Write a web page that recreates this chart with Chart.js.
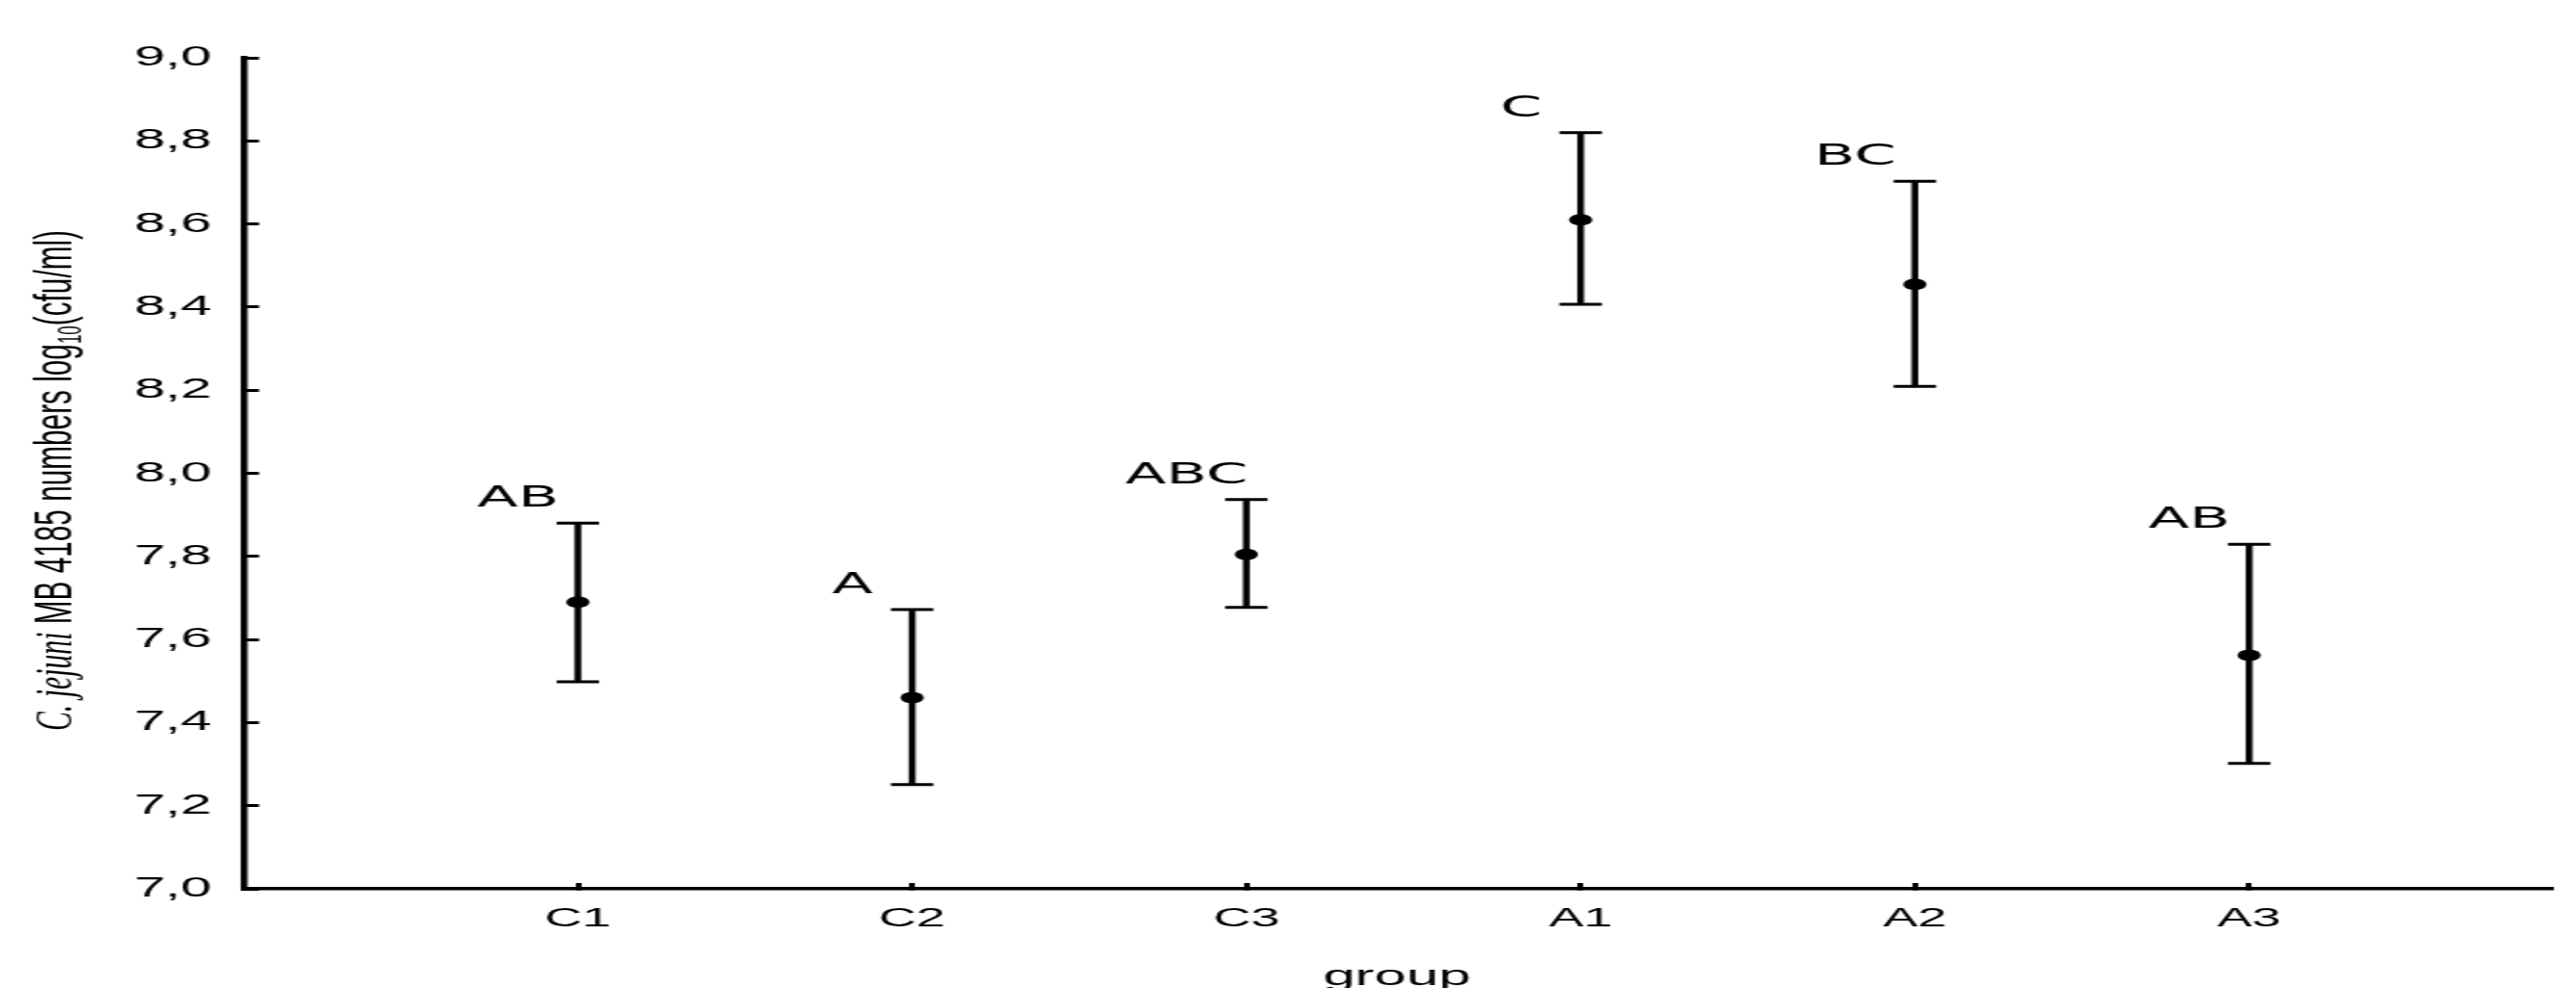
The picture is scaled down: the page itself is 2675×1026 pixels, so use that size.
<!DOCTYPE html>
<html>
<head>
<meta charset="utf-8">
<script src="https://cdn.jsdelivr.net/npm/chart.js@4.4.1/dist/chart.umd.min.js"></script>
<style>
html, body { margin: 0; padding: 0; background: #fff; overflow: hidden; }
#wrap { width: 2675px; height: 1026px; overflow: hidden; }
/* the original figure is stretched 2x horizontally, so draw at half width and stretch */
#chart { display: block; transform: scaleX(2); transform-origin: 0 0; }
</style>
</head>
<body>
<div id="wrap"><canvas id="chart" width="1338" height="1026"></canvas></div>
<script>
// data
const groups = ['C1', 'C2', 'C3', 'A1', 'A2', 'A3'];
const means = [7.69, 7.46, 7.805, 8.61, 8.455, 7.562];
const upperCI = [7.88, 7.672, 7.937, 8.82, 8.703, 7.829];
const lowerCI = [7.498, 7.251, 7.677, 8.407, 8.209, 7.302];
const letters = ['AB', 'A', 'ABC', 'C', 'BC', 'AB'];
const yTicks = [7.0, 7.2, 7.4, 7.6, 7.8, 8.0, 8.2, 8.4, 8.6, 8.8, 9.0];

const sans = "'Liberation Sans', Arial, sans-serif";

var meanPts = [], capPts = [], barPts = [];
for (let i = 0; i < groups.length; i++) {
	meanPts.push({x: i + 1, y: means[i]});
	capPts.push({x: i + 1, y: upperCI[i]}, {x: i + 1, y: lowerCI[i]});
	barPts.push({x: i + 1, y: lowerCI[i]}, {x: i + 1, y: upperCI[i]}, {x: i + 1.5, y: null});
}

// letters above the bars + the rotated y title (mixed fonts)
const extraText = {
	id: 'extraText',
	afterDraw(chart) {
		const ctx = chart.ctx;
		const xs = chart.scales.x, ys = chart.scales.y;
		ctx.save();
		ctx.fillStyle = '#000';
		ctx.font = '31px "DejaVu Sans"';
		ctx.textAlign = 'center';
		ctx.textBaseline = 'alphabetic';
		letters.forEach((t, i) => {
			ctx.fillText(t, xs.getPixelForValue(i + 1) - 31, ys.getPixelForValue(upperCI[i]) - 17);
		});
		ctx.restore();

		const parts = [
			{t: 'C. jejuni', f: 'italic 28px "Liberation Serif"', dy: 0},
			{t: ' MB 4185 numbers log', f: '28px ' + sans, dy: 0},
			{t: '10', f: '16px ' + sans, dy: 8},
			{t: '(cfu/ml)', f: '28px ' + sans, dy: 0}
		];
		let total = 0;
		parts.forEach(p => { ctx.font = p.f; p.w = ctx.measureText(p.t).width; total += p.w; });
		const len = 520;
		ctx.save();
		ctx.translate(29.5, 499);
		ctx.rotate(-Math.PI / 2);
		ctx.scale(len / total, 1);
		ctx.fillStyle = '#000';
		ctx.textAlign = 'left';
		ctx.textBaseline = 'middle';
		let x = -total / 2;
		parts.forEach(p => {
			ctx.font = p.f;
			ctx.fillText(p.t, x, p.dy);
			x += p.w;
		});
		ctx.restore();
	}
};

const ctx = document.getElementById('chart').getContext('2d');
const chart = new Chart(ctx, {
	type: 'scatter',
	data: {
		datasets: [
			{
				label: 'mean',
				data: meanPts,
				pointStyle: 'circle',
				pointRadius: 6,
				backgroundColor: '#000',
				borderColor: '#000',
				borderWidth: 0
			},
			{
				label: 'caps',
				data: capPts,
				pointStyle: 'line',
				pointRadius: 11,
				borderColor: '#000',
				borderWidth: 3
			},
			{
				label: 'ci',
				data: barPts,
				showLine: true,
				spanGaps: false,
				pointRadius: 0,
				borderColor: '#000',
				borderWidth: 3.5,
				borderCapStyle: 'butt'
			}
		]
	},
	options: {
		responsive: false,
		animation: false,
		layout: { padding: { top: 60, right: 0, bottom: 0, left: 0 } },
		plugins: {
			legend: { display: false },
			tooltip: { enabled: false }
		},
		scales: {
			x: {
				type: 'linear',
				min: 0,
				max: 6.9,
				afterBuildTicks: (s) => { s.ticks = groups.map((g, i) => ({value: i + 1})); },
				afterFit: (s) => { s.height = 103; },
				ticks: {
					autoSkip: false,
					maxRotation: 0,
					color: '#000',
					padding: 21,
					font: { family: sans, size: 27 },
					callback: (v) => groups[v - 1] || ''
				},
				grid: {
					drawOnChartArea: false,
					drawTicks: true,
					tickLength: -6,
					color: '#000',
					lineWidth: 3
				},
				border: { display: true, color: '#000', width: 3.5 },
				title: {
					display: true,
					text: 'group',
					color: '#000',
					font: { family: sans, size: 30 },
					padding: { top: 0, bottom: -7 }
				}
			},
			y: {
				min: 7,
				max: 9,
				afterBuildTicks: (s) => { s.ticks = yTicks.map(v => ({value: v})); },
				afterFit: (s) => { s.width = 126.5; },
				ticks: {
					color: '#000',
					padding: 24.5,
					font: { family: sans, size: 29 },
					callback: (v) => v.toFixed(1).replace('.', ',')
				},
				grid: {
					drawOnChartArea: false,
					drawTicks: true,
					tickLength: -8,
					color: '#000',
					lineWidth: 3
				},
				border: { display: true, color: '#000', width: 3.5 },
				title: { display: false }
			}
		}
	},
	plugins: [extraText]
});
</script>
</body>
</html>
